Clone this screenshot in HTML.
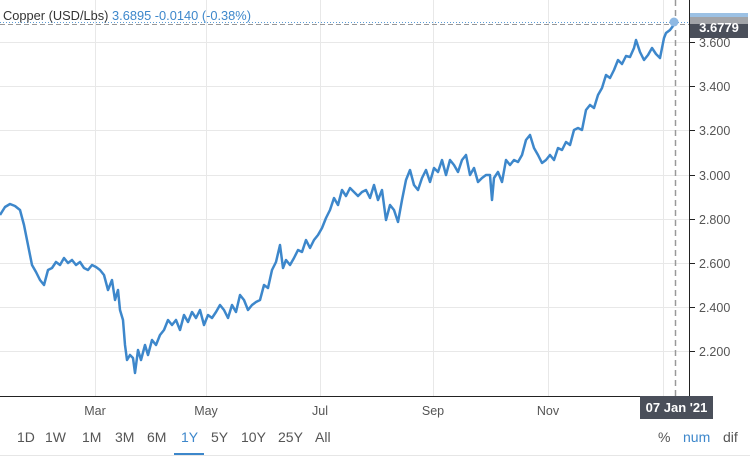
<!DOCTYPE html>
<html><head><meta charset="utf-8"><style>
body{margin:0;background:#fff;font-family:"Liberation Sans",sans-serif;}
svg{display:block}
</style></head><body>
<svg width="750" height="463" viewBox="0 0 750 463" xmlns="http://www.w3.org/2000/svg" font-family="Liberation Sans, sans-serif">
<rect width="750" height="463" fill="#fff"/>
<g stroke="#e8e8e8" stroke-width="1">
<line x1="0" x2="689" y1="42.5" y2="42.5"/><line x1="0" x2="689" y1="86.5" y2="86.5"/>
<line x1="0" x2="689" y1="130.5" y2="130.5"/><line x1="0" x2="689" y1="175.5" y2="175.5"/>
<line x1="0" x2="689" y1="219.5" y2="219.5"/><line x1="0" x2="689" y1="263.5" y2="263.5"/>
<line x1="0" x2="689" y1="307.5" y2="307.5"/><line x1="0" x2="689" y1="351.5" y2="351.5"/>
<line x1="95.5" x2="95.5" y1="0" y2="396"/><line x1="206.5" x2="206.5" y1="0" y2="396"/>
<line x1="320.5" x2="320.5" y1="0" y2="396"/><line x1="433.5" x2="433.5" y1="0" y2="396"/>
<line x1="548.5" x2="548.5" y1="0" y2="396"/><line x1="663.5" x2="663.5" y1="0" y2="396"/>
</g>
<line x1="0" x2="689" y1="22.5" y2="22.5" stroke="#5b9bd5" stroke-dasharray="1,2"/>
<line x1="0" x2="689" y1="24.5" y2="24.5" stroke="#999" stroke-dasharray="5,3"/>
<line x1="675.5" x2="675.5" y1="0" y2="396" stroke="#999" stroke-width="1.5" stroke-dasharray="6,4"/>
<line x1="689.5" x2="689.5" y1="0" y2="396" stroke="#222"/>
<line x1="0" x2="689" y1="396.5" y2="396.5" stroke="#222"/>
<g stroke="#222"><line x1="689" x2="695" y1="42.5" y2="42.5"/><line x1="689" x2="695" y1="86.5" y2="86.5"/><line x1="689" x2="695" y1="130.5" y2="130.5"/><line x1="689" x2="695" y1="175.5" y2="175.5"/><line x1="689" x2="695" y1="219.5" y2="219.5"/><line x1="689" x2="695" y1="263.5" y2="263.5"/><line x1="689" x2="695" y1="307.5" y2="307.5"/><line x1="689" x2="695" y1="351.5" y2="351.5"/></g>
<g font-size="12.5" fill="#555">
<text x="699" y="47">3.600</text><text x="699" y="91">3.400</text><text x="699" y="135">3.200</text><text x="699" y="180">3.000</text><text x="699" y="224">2.800</text><text x="699" y="268">2.600</text><text x="699" y="312">2.400</text><text x="699" y="356">2.200</text>
</g>
<polyline fill="none" stroke="#3d87cb" stroke-width="2.5" stroke-linejoin="round" points="0,215 5,207 10,204 15,206 20,210 24,225 28,245 32,265 36,272 40,280 44,285 48,270 52,268 56,262 60,265 64,258 68,263 72,260 76,265 80,262 84,268 88,270 92,265 96,267 100,270 104,275 108,290 112,280 115,300 118,290 120,310 123,320 125,345 127,360 130,355 133,358 135,373 138,350 141,360 145,345 148,355 152,340 156,345 160,335 164,330 168,320 172,325 176,320 180,330 184,315 188,322 192,312 196,318 200,310 204,325 208,315 212,318 216,312 220,305 224,310 228,318 232,305 236,312 240,295 244,300 248,310 252,305 256,302 260,300 264,285 268,288 272,270 276,262 280,245 283,268 286,260 290,265 294,258 298,250 302,252 306,240 310,248 314,240 318,235 322,228 326,218 330,210 334,198 338,205 342,190 346,196 350,188 354,192 358,196 362,192 366,190 370,198 374,185 378,200 382,190 386,220 390,205 394,210 398,222 402,200 406,180 410,170 414,185 418,190 422,178 426,170 430,182 434,168 438,172 442,160 446,175 450,160 454,165 458,172 462,160 466,155 470,175 474,168 478,182 482,178 486,175 490,175 492,200 494,178 498,172 502,182 506,160 510,165 514,160 518,162 522,155 526,140 530,135 534,148 538,155 542,163 546,160 550,155 554,160 558,148 562,150 566,142 570,145 574,130 578,128 582,130 586,110 590,105 594,108 598,95 602,88 606,75 610,78 614,70 618,60 622,64 626,56 630,57 634,48 636,40 640,52 644,60 648,55 652,48 656,54 660,58 664,38 666,33 670,30 673,26 675,22"/>
<circle cx="674" cy="22" r="4.5" fill="#8fb9e3"/>
<rect x="690" y="13" width="58" height="4" fill="#9cc1e4"/>
<rect x="690" y="17" width="58" height="7" fill="#a2a4a8"/>
<rect x="690" y="24" width="58" height="14" fill="#4a4f5a"/>
<text x="719" y="32" font-size="13" font-weight="bold" fill="#fff" text-anchor="middle">3.6779</text>
<text x="3" y="20" font-size="13" fill="#333" textLength="248" lengthAdjust="spacingAndGlyphs">Copper (USD/Lbs) <tspan fill="#3d87cb">3.6895  -0.0140 (-0.38%)</tspan></text>
<rect x="640" y="396" width="73" height="23" fill="#4a4f5a"/>
<text x="676.5" y="412" font-size="13" font-weight="bold" fill="#fff" text-anchor="middle">07 Jan '21</text>
<g font-size="12.5" fill="#555" text-anchor="middle">
<text x="95" y="415">Mar</text><text x="206" y="415">May</text><text x="320" y="415">Jul</text><text x="433" y="415">Sep</text><text x="548" y="415">Nov</text>
</g>
<g font-size="14" fill="#555">
<text x="17" y="442">1D</text><text x="45" y="442">1W</text><text x="82" y="442">1M</text><text x="115" y="442">3M</text><text x="147" y="442">6M</text><text x="181" y="442" fill="#3d87cb">1Y</text><text x="211" y="442">5Y</text><text x="241" y="442">10Y</text><text x="278" y="442">25Y</text><text x="315" y="442">All</text>
<text x="658" y="442">%</text><text x="683" y="442" fill="#3d87cb">num</text><text x="723" y="442">dif</text>
</g>
<rect x="174" y="453" width="30" height="2" fill="#3d87cb"/>
<line x1="0" x2="750" y1="455.5" y2="455.5" stroke="#e6e6e6"/>
</svg>
</body></html>
